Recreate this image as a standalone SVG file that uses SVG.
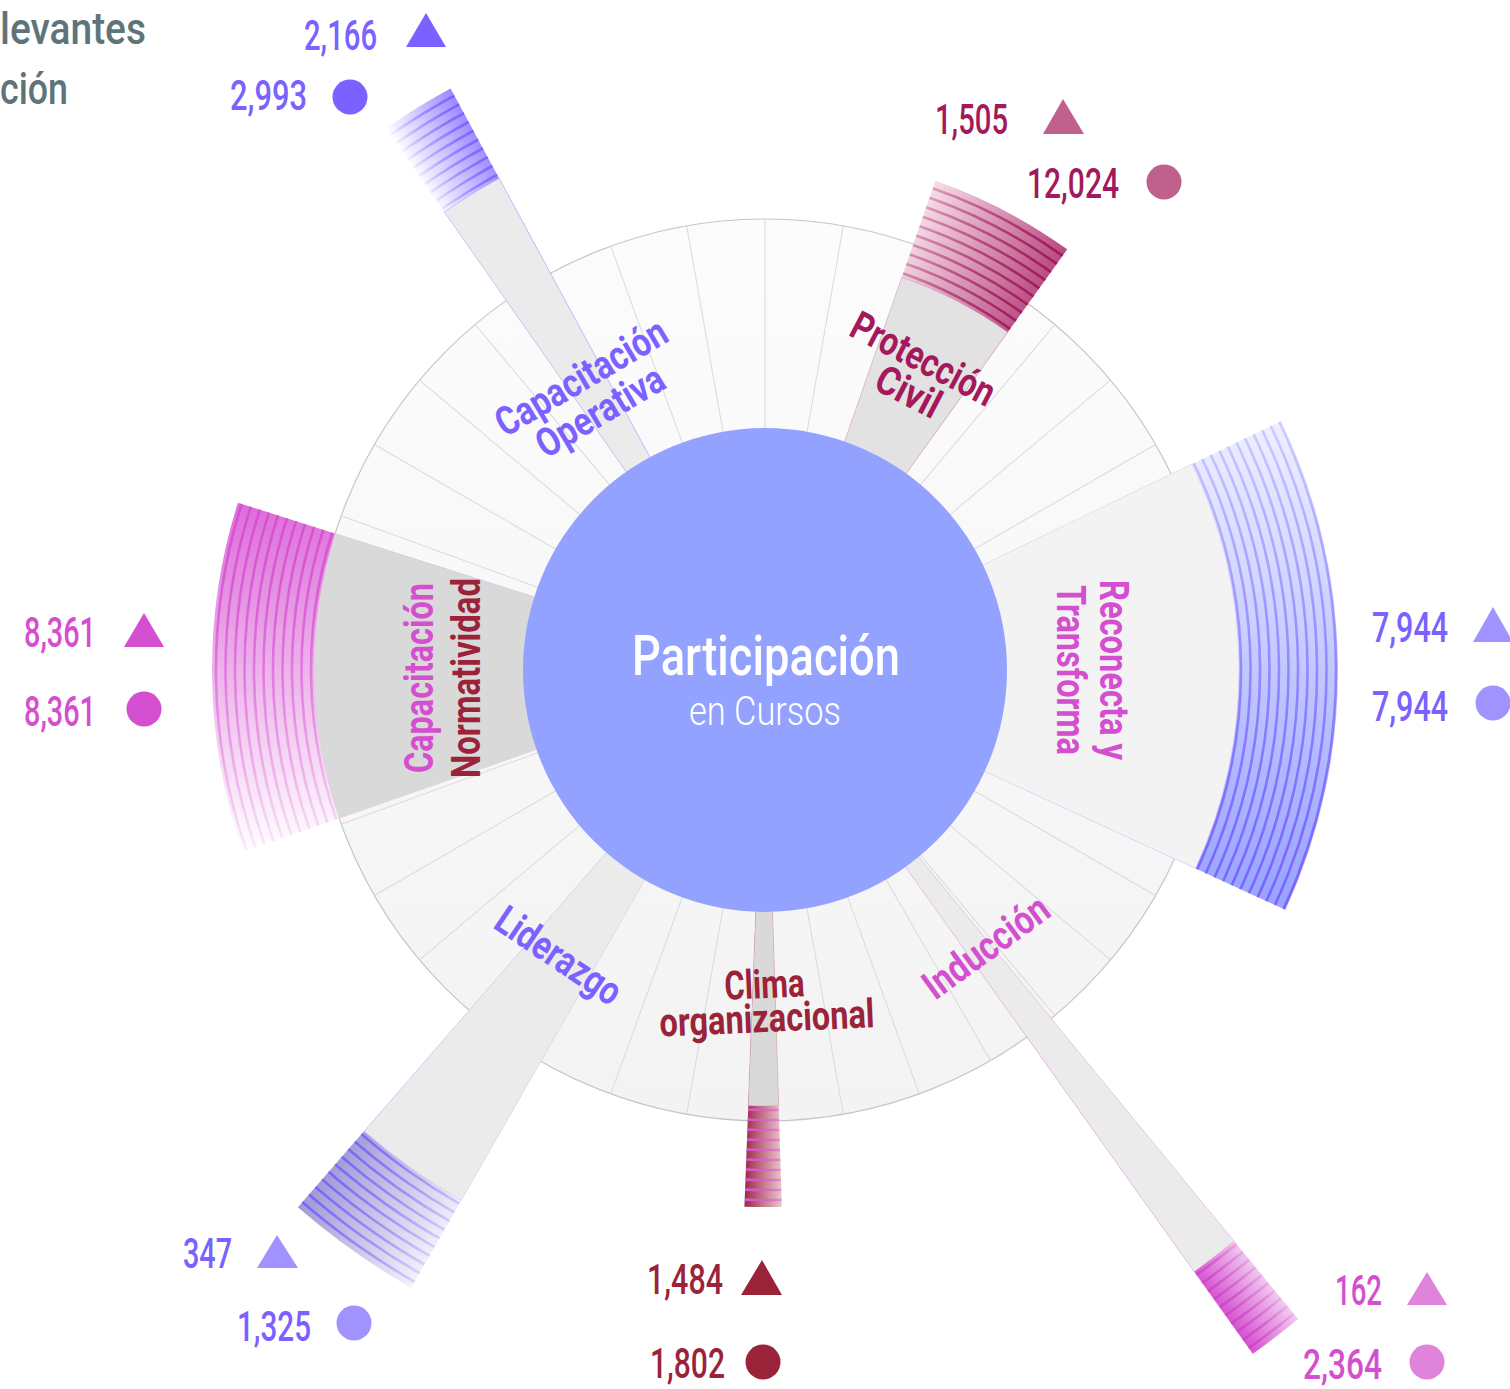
<svg xmlns="http://www.w3.org/2000/svg" width="1510" height="1389" viewBox="0 0 1510 1389">
<style>
text{font-family:Roboto,"Liberation Sans",sans-serif}
.num{font-size:42px;font-weight:500}
.lbl{font-size:40px;font-weight:700;text-anchor:middle}
.grid line{stroke:#dadada;stroke-width:1}
.st{fill:none;stroke-width:2.6}
.edge{stroke-width:0.8;stroke-opacity:0.5}
.pur{fill:#7b61ff}.lpur{fill:#a193ff}.cri{fill:#9b2339}.wine{fill:#a3195b}.rose{fill:#c0618b}.mag{fill:#d44fd0}.lmag{fill:#e083da}
</style>
<defs>
<linearGradient id="ringG" x1="0" y1="0" x2="0" y2="1"><stop offset="0" stop-color="#fcfcfc"/><stop offset="1" stop-color="#f3f3f3"/></linearGradient>
<linearGradient id="b1" x1="0" y1="0" x2="0" y2="1"><stop offset="0" stop-color="#ffffff"/><stop offset="1" stop-color="#9a88ff"/></linearGradient>
<linearGradient id="s1" gradientUnits="userSpaceOnUse" x1="0" y1="-38" x2="0" y2="38"><stop offset="0" stop-color="#7b61ff" stop-opacity="0.05"/><stop offset="1" stop-color="#7b61ff"/></linearGradient>
<linearGradient id="b2" x1="0" y1="0" x2="0" y2="1"><stop offset="0" stop-color="#f6dde8"/><stop offset="1" stop-color="#b9487f"/></linearGradient>
<linearGradient id="s2" gradientUnits="userSpaceOnUse" x1="0" y1="-74" x2="0" y2="74"><stop offset="0" stop-color="#a0195a" stop-opacity="0.3"/><stop offset="1" stop-color="#a0195a"/></linearGradient>
<linearGradient id="b3" x1="0" y1="0" x2="0" y2="1"><stop offset="0" stop-color="#eef0ff"/><stop offset="1" stop-color="#96a2ff"/></linearGradient>
<linearGradient id="s3" gradientUnits="userSpaceOnUse" x1="0" y1="-244" x2="0" y2="244"><stop offset="0" stop-color="#7b61ff" stop-opacity="0.25"/><stop offset="1" stop-color="#7b61ff"/></linearGradient>
<linearGradient id="b4" x1="0" y1="0" x2="0" y2="1"><stop offset="0" stop-color="#ffffff"/><stop offset="1" stop-color="#dd6bda"/></linearGradient>
<linearGradient id="s4" gradientUnits="userSpaceOnUse" x1="0" y1="-175" x2="0" y2="175"><stop offset="0" stop-color="#d54fd0" stop-opacity="0.1"/><stop offset="1" stop-color="#d54fd0"/></linearGradient>
<linearGradient id="b5" x1="0" y1="0" x2="0" y2="1"><stop offset="0" stop-color="#f3f1fb"/><stop offset="1" stop-color="#9f99d6"/></linearGradient>
<linearGradient id="s5" gradientUnits="userSpaceOnUse" x1="0" y1="-70" x2="0" y2="70"><stop offset="0" stop-color="#7b61ff" stop-opacity="0.2"/><stop offset="1" stop-color="#7b61ff"/></linearGradient>
<linearGradient id="b6" x1="0" y1="0" x2="0" y2="1"><stop offset="0" stop-color="#ecc8cf"/><stop offset="1" stop-color="#9b2a45"/></linearGradient>
<linearGradient id="s6" gradientUnits="userSpaceOnUse" x1="0" y1="-19" x2="0" y2="19"><stop offset="0" stop-color="#d95ad5" stop-opacity="0.5"/><stop offset="1" stop-color="#d95ad5"/></linearGradient>
<linearGradient id="b7" x1="0" y1="0" x2="0" y2="1"><stop offset="0" stop-color="#f2cdf0"/><stop offset="1" stop-color="#d54fd0"/></linearGradient>
<linearGradient id="s7" gradientUnits="userSpaceOnUse" x1="0" y1="-29" x2="0" y2="29"><stop offset="0" stop-color="#c93fc4" stop-opacity="0.15"/><stop offset="1" stop-color="#c93fc4" stop-opacity="0.8"/></linearGradient>
<clipPath id="k1"><path d="M0,0L659.9,-38A661,661 0 0 1 659.9,38Z"/></clipPath>
<clipPath id="k2"><path d="M0,0L512.6,-74.3A518,518 0 0 1 512.6,74.3Z"/></clipPath>
<clipPath id="k3"><path d="M0,0L518.3,-244.4A573,573 0 0 1 518.3,244.4Z"/></clipPath>
<clipPath id="k4"><path d="M0,0L524.7,-174.6A553,553 0 0 1 524.7,174.6Z"/></clipPath>
<clipPath id="k5"><path d="M0,0L708.6,-69.5A712,712 0 0 1 708.6,69.5Z"/></clipPath>
<clipPath id="k6"><path d="M0,0L536.7,-18.7A537,537 0 0 1 536.7,18.7Z"/></clipPath>
<clipPath id="k7"><path d="M0,0L839.5,-28.6A840,840 0 0 1 839.5,28.6Z"/></clipPath>
</defs>
<rect width="1510" height="1389" fill="#ffffff"/>
<g id="header" fill="#5f747a" font-size="44" font-weight="500">
<text x="0" y="44" textLength="146" lengthAdjust="spacingAndGlyphs">levantes</text>
<text x="0" y="104" textLength="68" lengthAdjust="spacingAndGlyphs">ción</text>
</g>
<g id="ring">
<circle cx="765" cy="670" r="451" fill="url(#ringG)" stroke="#c6c6c6" stroke-width="1.2"/>
</g>
<g id="connectors" class="grid" transform="translate(765,670)">
<line x1="-451" x2="451" y1="0" y2="0"/>
<line x1="-451" x2="451" y1="0" y2="0" transform="rotate(10)"/>
<line x1="-451" x2="451" y1="0" y2="0" transform="rotate(20)"/>
<line x1="-451" x2="451" y1="0" y2="0" transform="rotate(30)"/>
<line x1="-451" x2="451" y1="0" y2="0" transform="rotate(40)"/>
<line x1="-451" x2="451" y1="0" y2="0" transform="rotate(50)"/>
<line x1="-451" x2="451" y1="0" y2="0" transform="rotate(60)"/>
<line x1="-451" x2="451" y1="0" y2="0" transform="rotate(70)"/>
<line x1="-451" x2="451" y1="0" y2="0" transform="rotate(80)"/>
<line x1="-451" x2="451" y1="0" y2="0" transform="rotate(90)"/>
<line x1="-451" x2="451" y1="0" y2="0" transform="rotate(100)"/>
<line x1="-451" x2="451" y1="0" y2="0" transform="rotate(110)"/>
<line x1="-451" x2="451" y1="0" y2="0" transform="rotate(120)"/>
<line x1="-451" x2="451" y1="0" y2="0" transform="rotate(130)"/>
<line x1="-451" x2="451" y1="0" y2="0" transform="rotate(140)"/>
<line x1="-451" x2="451" y1="0" y2="0" transform="rotate(150)"/>
<line x1="-451" x2="451" y1="0" y2="0" transform="rotate(160)"/>
<line x1="-451" x2="451" y1="0" y2="0" transform="rotate(170)"/>
</g>

<g id="cap-operativa">
<g transform="translate(765,670) rotate(-121.7)">
<path d="M0,0L659.9,-38A661,661 0 0 1 659.9,38Z" fill="url(#b1)"/>
<g clip-path="url(#k1)" class="st" stroke="url(#s1)">
<circle r="563"/><circle r="573"/><circle r="583"/><circle r="593"/><circle r="603"/><circle r="613"/><circle r="623"/><circle r="633"/><circle r="643"/><circle r="653"/>
</g>
<path d="M0,0L558.1,-32.2A559,559 0 0 1 558.1,32.2Z" fill="#ebebeb" class="edge" stroke="#9a88ff"/>
</g>
<g class="lbl pur" transform="translate(588,389) rotate(-30.5)">
<text x="0" y="0" textLength="192" lengthAdjust="spacingAndGlyphs">Capacitación</text>
<text x="-1" y="39" textLength="142" lengthAdjust="spacingAndGlyphs">Operativa</text>
</g>
<text class="num pur" x="304" y="50" textLength="73" lengthAdjust="spacingAndGlyphs">2,166</text>
<polygon class="pur" points="426,13 406,47 446,47"/>
<text class="num pur" x="230" y="110" textLength="77" lengthAdjust="spacingAndGlyphs">2,993</text>
<circle class="pur" cx="350" cy="97" r="17.5"/>
</g>

<g id="proteccion-civil">
<g transform="translate(765,670) rotate(-62.55)">
<path d="M0,0L512.6,-74.3A518,518 0 0 1 512.6,74.3Z" fill="url(#b2)"/>
<g clip-path="url(#k2)" class="st" stroke="url(#s2)">
<circle r="420"/><circle r="430"/><circle r="440"/><circle r="450"/><circle r="460"/><circle r="470"/><circle r="480"/><circle r="490"/><circle r="500"/><circle r="510"/>
</g>
<path d="M0,0L411.7,-59.7A416,416 0 0 1 411.7,59.7Z" fill="#e2e2e2" class="edge" stroke="#d28aae"/>
</g>
<g class="lbl wine" transform="translate(917,371) rotate(27.5)">
<text x="0" y="0" textLength="157" lengthAdjust="spacingAndGlyphs">Protección</text>
<text x="2" y="36" textLength="68" lengthAdjust="spacingAndGlyphs">Civil</text>
</g>
<text class="num wine" x="935" y="134" textLength="73" lengthAdjust="spacingAndGlyphs">1,505</text>
<polygon class="rose" points="1063,99 1043,134 1084,134"/>
<text class="num wine" x="1027" y="198" textLength="92" lengthAdjust="spacingAndGlyphs">12,024</text>
<circle class="rose" cx="1164" cy="182" r="17.5"/>
</g>

<g id="reconecta-transforma">
<g transform="translate(765,670) rotate(-0.5)">
<path d="M0,0L518.3,-244.4A573,573 0 0 1 518.3,244.4Z" fill="url(#b3)"/>
<g clip-path="url(#k3)" class="st" stroke="url(#s3)">
<circle r="476"/><circle r="485.5"/><circle r="495"/><circle r="504.5"/><circle r="514"/><circle r="523.5"/><circle r="533"/><circle r="542.5"/><circle r="552"/><circle r="561.5"/><circle r="571"/>
</g>
<path d="M0,0L428.7,-202.2A474,474 0 0 1 428.7,202.2Z" fill="#f3f3f3" class="edge" stroke="#c9c2ff"/>
</g>
<g class="lbl mag" transform="translate(1100,670) rotate(90)">
<text x="0" y="0" textLength="180" lengthAdjust="spacingAndGlyphs">Reconecta y</text>
<text x="0" y="43" textLength="170" lengthAdjust="spacingAndGlyphs">Transforma</text>
</g>
<text class="num pur" x="1372" y="642" textLength="76" lengthAdjust="spacingAndGlyphs">7,944</text>
<polygon class="lpur" points="1493,607 1473,642 1513,642"/>
<text class="num pur" x="1372" y="721" textLength="76" lengthAdjust="spacingAndGlyphs">7,944</text>
<circle class="lpur" cx="1493" cy="703" r="17.5"/>
</g>

<g id="capacitacion-normatividad">
<g transform="translate(765,670) rotate(179.2)">
<path d="M0,0L524.7,-174.6A553,553 0 0 1 524.7,174.6Z" fill="url(#b4)"/>
<g clip-path="url(#k4)" class="st" stroke="url(#s4)">
<circle r="454"/><circle r="463.5"/><circle r="473"/><circle r="482.5"/><circle r="492"/><circle r="501.5"/><circle r="511"/><circle r="520.5"/><circle r="530"/><circle r="539.5"/><circle r="549"/>
</g>
<path d="M0,0L427.9,-142.4A451,451 0 0 1 427.9,142.4Z" fill="#d9d9d9" class="edge" stroke="#eec0ec"/>
</g>
<g class="lbl" transform="translate(433,678) rotate(-90)">
<text class="mag" x="0" y="0" textLength="190" lengthAdjust="spacingAndGlyphs">Capacitación</text>
<text class="cri" x="0" y="47" textLength="200" lengthAdjust="spacingAndGlyphs">Normatividad</text>
</g>
<text class="num mag" x="24" y="647" textLength="72" lengthAdjust="spacingAndGlyphs">8,361</text>
<polygon class="mag" points="144,613 124,647 164,647"/>
<text class="num mag" x="24" y="726" textLength="72" lengthAdjust="spacingAndGlyphs">8,361</text>
<circle class="mag" cx="144" cy="709" r="17.5"/>
</g>

<g id="liderazgo">
<g transform="translate(765,670) rotate(125.4)">
<path d="M0,0L708.6,-69.5A712,712 0 0 1 708.6,69.5Z" fill="url(#b5)"/>
<g clip-path="url(#k5)" class="st" stroke="url(#s5)">
<circle r="615"/><circle r="625"/><circle r="635"/><circle r="645"/><circle r="655"/><circle r="665"/><circle r="675"/><circle r="685"/><circle r="695"/><circle r="705"/>
</g>
<path d="M0,0L608.1,-59.6A611,611 0 0 1 608.1,59.6Z" fill="#ebebeb" class="edge" stroke="#c9c2ff"/>
</g>
<g class="lbl pur" transform="translate(551,967) rotate(34)">
<text x="0" y="0" textLength="143" lengthAdjust="spacingAndGlyphs">Liderazgo</text>
</g>
<text class="num pur" x="183" y="1268" textLength="49" lengthAdjust="spacingAndGlyphs">347</text>
<polygon class="lpur" points="277,1235 257,1268 298,1268"/>
<text class="num pur" x="237" y="1341" textLength="74" lengthAdjust="spacingAndGlyphs">1,325</text>
<circle class="lpur" cx="354" cy="1323" r="17.5"/>
</g>

<g id="clima-organizacional">
<g transform="translate(765,670) rotate(90.2)">
<path d="M0,0L536.7,-18.7A537,537 0 0 1 536.7,18.7Z" fill="url(#b6)"/>
<g clip-path="url(#k6)" class="st" stroke="url(#s6)">
<circle r="440"/><circle r="450"/><circle r="460"/><circle r="470"/><circle r="480"/><circle r="490"/><circle r="500"/><circle r="510"/><circle r="520"/><circle r="530"/>
</g>
<path d="M0,0L435.7,-15.2A436,436 0 0 1 435.7,15.2Z" fill="#d9d9d9" class="edge" stroke="#d28aae"/>
</g>
<g class="lbl cri" transform="translate(765,998) rotate(-2.5)">
<text x="0" y="0" textLength="80" lengthAdjust="spacingAndGlyphs">Clima</text>
<text x="1" y="34" textLength="215" lengthAdjust="spacingAndGlyphs">organizacional</text>
</g>
<text class="num cri" x="647" y="1294" textLength="76" lengthAdjust="spacingAndGlyphs">1,484</text>
<polygon class="cri" points="762,1260 741,1295 782,1295"/>
<text class="num cri" x="650" y="1378" textLength="75" lengthAdjust="spacingAndGlyphs">1,802</text>
<circle class="cri" cx="763" cy="1362" r="17.5"/>
</g>

<g id="induccion">
<g transform="translate(765,670) rotate(52.55)">
<path d="M0,0L839.5,-28.6A840,840 0 0 1 839.5,28.6Z" fill="url(#b7)"/>
<g clip-path="url(#k7)" class="st" stroke="url(#s7)">
<circle r="743"/><circle r="753"/><circle r="763"/><circle r="773"/><circle r="783"/><circle r="793"/><circle r="803"/><circle r="813"/><circle r="823"/><circle r="833"/>
</g>
<path d="M0,0L738.6,-25.1A739,739 0 0 1 738.6,25.1Z" fill="#ebebeb" class="edge" stroke="#e6a6e3"/>
</g>
<g class="lbl mag" transform="translate(994,958) rotate(-36)">
<text x="0" y="0" textLength="146" lengthAdjust="spacingAndGlyphs">Inducción</text>
</g>
<text class="num mag" x="1335" y="1305" textLength="47" lengthAdjust="spacingAndGlyphs">162</text>
<polygon class="lmag" points="1427,1272 1407,1305 1447,1305"/>
<text class="num mag" x="1303" y="1379" textLength="79" lengthAdjust="spacingAndGlyphs">2,364</text>
<circle class="lmag" cx="1427" cy="1362" r="17.5"/>
</g>

<g id="center">
<circle cx="765" cy="670" r="242" fill="#93a2fe"/>
<text x="766" y="675" fill="#ffffff" font-size="56" font-weight="500" text-anchor="middle" textLength="268" lengthAdjust="spacingAndGlyphs">Participación</text>
<text x="765" y="725" fill="#ffffff" font-size="40" font-weight="300" text-anchor="middle" textLength="152" lengthAdjust="spacingAndGlyphs">en Cursos</text>
</g>
</svg>
